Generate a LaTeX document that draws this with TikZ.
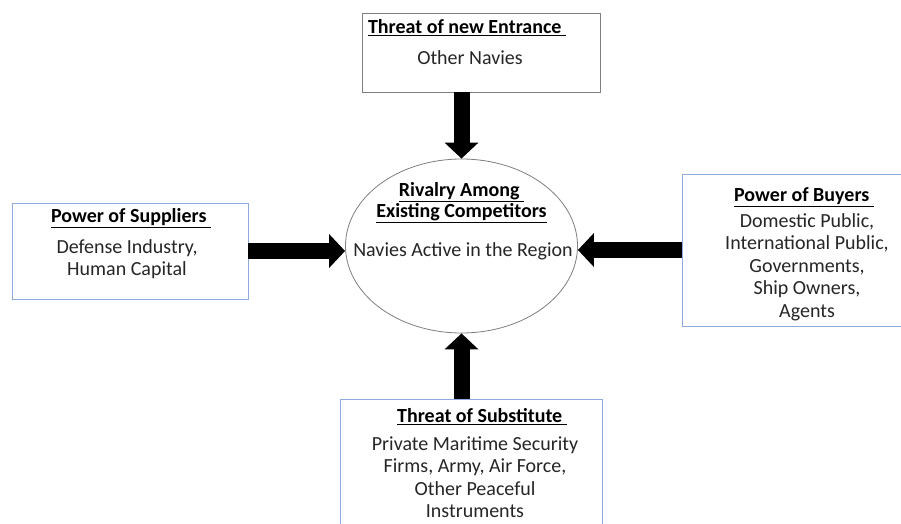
\documentclass[tikz,border=0pt]{standalone}
\usepackage{fontspec}
\setmainfont{Carlito}
\usetikzlibrary{arrows.meta,shapes.geometric}
\definecolor{boxblue}{HTML}{8FAADC}
\definecolor{boxgrey}{HTML}{7F7F7F}
\definecolor{txt}{HTML}{262626}
\tikzset{
  box/.style={draw=boxblue, line width=0.8pt, minimum width=#1, inner sep=0pt, anchor=center},
  gbox/.style={draw=boxgrey, line width=0.8pt, inner sep=0pt},
  ttl/.style={font=\fontsize{20}{21}\selectfont\bfseries, text=black, inner sep=0pt},
  body/.style={font=\fontsize{20}{22.5}\selectfont, text=txt, align=center, inner sep=0pt},
  fat/.style={line width=16pt, -{Triangle[length=16pt,width=33pt]}, black},
}
\begin{document}
\begin{tikzpicture}[x=1pt,y=-1pt]
\useasboundingbox (0,0) rectangle (901,524);
\fill[white] (0,0) rectangle (901,524);
% boxes
\node[gbox, minimum width=238pt, minimum height=79pt] (top) at (481,52.5) {};
\node[box=236pt, minimum height=96pt] (lbox) at (130,251) {};
\node[box=228pt, minimum height=152pt] (rbox) at (796,250) {};
\node[box=262pt, minimum height=142pt] (bbox) at (471,470) {};
\node[gbox, ellipse, minimum width=232pt, minimum height=174pt] (ell) at (461.5,246) {};
% texts
\node[ttl] (toptitle) at (467,28) {\underline{Threat of new Entrance\ }};
\node[body] (toptext) at (470,58) {Other Navies};
\node[ttl] (ltitle) at (131,218) {\underline{Power of Suppliers\ }};
\node[body, anchor=north] (ltext) at (127,239) {Defense Industry,\\Human Capital};
\node[ttl] (rtitle) at (804,197) {\underline{Power of Buyers\ }};
\node[body, anchor=north] (rtext) at (807,213) {Domestic Public,\\International Public,\\Governments,\\Ship Owners,\\Agents};
\node[ttl] (btitle) at (482,417) {\underline{Threat of Substitute\ }};
\node[body, anchor=north] (btext) at (475,436) {Private Maritime Security\\Firms, Army, Air Force,\\Other Peaceful\\Instruments};
\node[ttl, align=center] (etitle) at (461.5,203) {\underline{Rivalry Among\ }\\\underline{Existing Competitors}};
\node[body] (etext) at (463,251) {Navies Active in the Region};
% arrows
\draw[fat] (ell.north |- top.south) -- (ell.north);
\draw[fat] (ell.south |- bbox.north) -- (ell.south);
\draw[fat] (lbox.east) -- (lbox.east -| ell.west);
\draw[fat] (rbox.west) -- (rbox.west -| ell.east);
\end{tikzpicture}
\end{document}
